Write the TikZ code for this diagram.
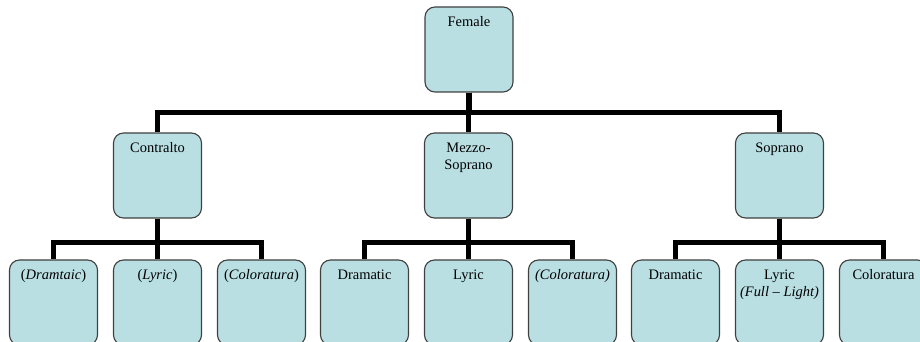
\documentclass[tikz,border=0pt]{standalone}
\usepackage{fontspec}
\setmainfont{Liberation Serif}
\usepackage{xcolor}
\usepackage{tikz}
\definecolor{boxfill}{HTML}{B9DFE3}
\definecolor{boxline}{HTML}{404040}
\tikzset{
  voice/.style={draw=boxline, fill=boxfill, line width=0.8pt, rounded corners=0.25cm,
    inner xsep=0pt, inner ysep=7pt, font=\fontsize{10.3}{12.2}\selectfont},
  link/.style={draw=black, line width=4pt}
}
\newcommand{\voicetext}[1]{\parbox[c][1.633cm][t]{2.2cm}{\centering #1}}

\begin{document}
\begin{tikzpicture}
\useasboundingbox (0,0) rectangle (23,-8.55);
\clip (0,0) rectangle (23,-8.55);
\node[voice] (female) at (11.725,-1.2375) {\voicetext{Female}};
\node[voice] (contralto) at (3.9375,-4.3875) {\voicetext{Contralto}};
\node[voice] (mezzo) at (11.7125,-4.3875) {\voicetext{Mezzo-\\Soprano}};
\node[voice] (soprano) at (19.4875,-4.3875) {\voicetext{Soprano}};
% contralto
\node[voice] (cdram) at (1.3375,-7.5625) {\voicetext{(\textit{Dramtaic})}};
\node[voice] (clyric) at (3.9375,-7.5625) {\voicetext{(\textit{Lyric})}};
\node[voice] (ccol) at (6.5375,-7.5625) {\voicetext{(\textit{Coloratura})}};
% mezzo-soprano
\node[voice] (mdram) at (9.1125,-7.5625) {\voicetext{Dramatic}};
\node[voice] (mlyric) at (11.7125,-7.5625) {\voicetext{Lyric}};
\node[voice] (mcol) at (14.3125,-7.5625) {\voicetext{\textit{(Coloratura)}}};
% soprano
\node[voice] (sdram) at (16.8875,-7.5625) {\voicetext{Dramatic}};
\node[voice] (slyric) at (19.4875,-7.5625) {\voicetext{Lyric\\\textit{(Full -- Light)}}};
\node[voice] (scol) at (22.0875,-7.5625) {\voicetext{Coloratura}};
\draw[link] (female.south) -- ++(0,-0.5) -| (contralto.north);
\draw[link] (female.south) -- ++(0,-0.5) -| (mezzo.north);
\draw[link] (female.south) -- ++(0,-0.5) -| (soprano.north);
\draw[link] (contralto.south) -- ++(0,-0.6) -| (cdram.north);
\draw[link] (contralto.south) -- ++(0,-0.6) -| (clyric.north);
\draw[link] (contralto.south) -- ++(0,-0.6) -| (ccol.north);
\draw[link] (mezzo.south) -- ++(0,-0.6) -| (mdram.north);
\draw[link] (mezzo.south) -- ++(0,-0.6) -| (mlyric.north);
\draw[link] (mezzo.south) -- ++(0,-0.6) -| (mcol.north);
\draw[link] (soprano.south) -- ++(0,-0.6) -| (sdram.north);
\draw[link] (soprano.south) -- ++(0,-0.6) -| (slyric.north);
\draw[link] (soprano.south) -- ++(0,-0.6) -| (scol.north);
\end{tikzpicture}
\end{document}
